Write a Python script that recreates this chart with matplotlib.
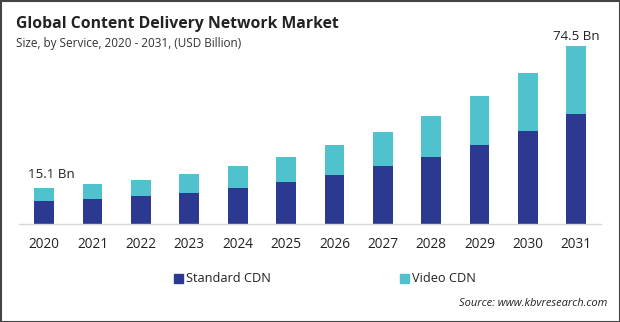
import matplotlib
matplotlib.use("Agg")
import matplotlib.pyplot as plt
from matplotlib.patches import Rectangle

years = ["2020", "2021", "2022", "2023", "2024", "2025",
         "2026", "2027", "2028", "2029", "2030", "2031"]
standard_cdn = [9.6, 10.5, 11.7, 13.0, 15.1, 17.6, 20.5, 24.3, 28.0, 33.1, 38.9, 46.0]
video_cdn = [5.5, 6.2, 6.7, 7.9, 9.2, 10.4, 12.6, 14.2, 17.2, 20.5, 24.3, 28.5]
first_label = "15.1 Bn"
last_label = "74.5 Bn"

c_std = "#2B3990"
c_vid = "#50C2CE"
c_text = "#222222"

plt.rcParams["font.family"] = ["Open Sans", "DejaVu Sans"]

fig = plt.figure(figsize=(6.2, 3.22), dpi=100)
fig.patch.set_facecolor("white")

ax = fig.add_axes([19 / 620, (322 - 224) / 322, (601 - 19) / 620, 194 / 322])
x = list(range(len(years)))
ax.bar(x, standard_cdn, width=0.41, color=c_std, zorder=2)
ax.bar(x, video_cdn, width=0.41, bottom=standard_cdn, color=c_vid, zorder=2)

ax.set_xlim(-0.52, 11.51)
ax.set_ylim(0, 81.2)
ax.set_yticks([])
ax.set_xticks(x)
ax.set_xticklabels(years, fontsize=9.8, color=c_text)
ax.tick_params(axis="x", length=0, pad=9)
for s in ["top", "right", "left"]:
    ax.spines[s].set_visible(False)
ax.spines["bottom"].set_color("#D9D9D9")
ax.spines["bottom"].set_linewidth(1.0)

totals = [a + b for a, b in zip(standard_cdn, video_cdn)]
ax.annotate(first_label, (x[0], totals[0]), xytext=(5, 5), textcoords="offset points",
            ha="center", va="bottom", fontsize=9.6, color=c_text)
ax.annotate(last_label, (x[-1], totals[-1]), xytext=(0, 2), textcoords="offset points",
            ha="center", va="bottom", fontsize=9.6, color=c_text)

fig.text(16 / 620, 1 - 24 / 322, "Global Content Delivery Network Market",
         fontsize=11.3, fontweight="bold", color=c_text, va="center", ha="left")
fig.text(16 / 620, 1 - 44 / 322, "Size, by Service, 2020 - 2031, (USD Billion)",
         fontsize=8.5, color="#333333", va="center", ha="left")

# legend
fig.patches.append(Rectangle((174 / 620, 1 - 283 / 322), 9 / 620, 9 / 322,
                             transform=fig.transFigure, color=c_std))
fig.text(186 / 620, 1 - 278 / 322, "Standard CDN", fontsize=9.2, color=c_text,
         va="center", ha="left")
fig.patches.append(Rectangle((400 / 620, 1 - 283 / 322), 9 / 620, 9 / 322,
                             transform=fig.transFigure, color=c_vid))
fig.text(412 / 620, 1 - 278 / 322, "Video CDN", fontsize=9.2, color=c_text,
         va="center", ha="left")

fig.text(607 / 620, 1 - 304 / 322, "Source: www.kbvresearch.com", fontsize=8,
         style="italic", color=c_text, va="center", ha="right")

# outer frame
fig.patches.append(Rectangle((0.5 / 620, 0.5 / 322), 619 / 620, 321 / 322,
                             transform=fig.transFigure, fill=False,
                             edgecolor="#444444", linewidth=1.5))

fig.savefig("out.png", dpi=100)
